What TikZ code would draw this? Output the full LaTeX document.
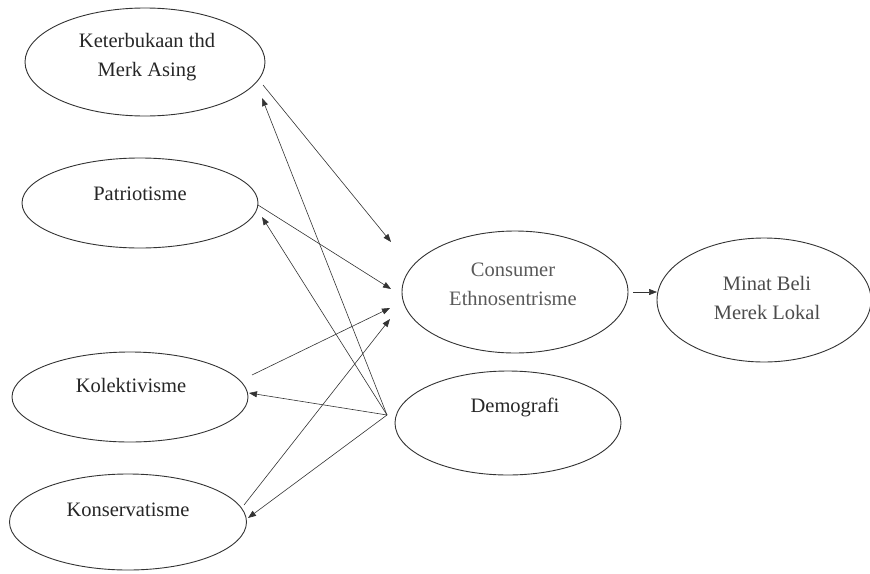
\documentclass[tikz,border=0pt]{standalone}
\usepackage{fontspec}
\setmainfont{Liberation Serif}
\usetikzlibrary{shapes.geometric,arrows.meta}
\begin{document}
\begin{tikzpicture}[x=1pt,y=-1pt,
  ell/.style={draw=black!80, line width=0.9pt, ellipse, inner sep=0pt},
  lbl/.style={font=\fontsize{20.5}{29}\selectfont, align=center, text=black!85, inner sep=0pt},
  arr/.style={draw=black!80, line width=0.6pt, -{Triangle[length=8pt,width=6pt]}}]
\useasboundingbox (0,0) rectangle (870,573);
% ellipses
\node[ell, minimum width=240pt, minimum height=108pt] (k) at (145,62) {};
\node[ell, minimum width=236pt, minimum height=90pt] (p) at (140,203) {};
\node[ell, minimum width=236pt, minimum height=90pt] (kol) at (130,397) {};
\node[ell, minimum width=237pt, minimum height=96pt] (kon) at (128,522) {};
\node[ell, minimum width=226pt, minimum height=122pt] (c) at (515,292) {};
\node[ell, minimum width=214pt, minimum height=124pt] (m) at (764,300) {};
\node[ell, minimum width=226pt, minimum height=104pt] (d) at (508,423) {};
% texts
\node[lbl] (kt) at (147,57) {Keterbukaan thd\\Merk Asing};
\node[lbl] (pt) at (140,194) {Patriotisme};
\node[lbl] (kolt) at (131,385) {Kolektivisme};
\node[lbl] (kont) at (128,510) {Konservatisme};
\node[lbl, text=black!65] (ct) at (513,284) {Consumer\\Ethnosentrisme};
\node[lbl, text=black!70] (mt) at (767,298) {Minat Beli\\Merek Lokal};
\node[lbl] (dt) at (515,407) {Demografi};
% connector end points
\coordinate (k-out) at (263,85);
\coordinate (p-out) at (258,205);
\coordinate (kol-out) at (252,375);
\coordinate (kon-out) at (244,505);
\coordinate (c-in1) at (391,242);
\coordinate (c-in2) at (391,289);
\coordinate (c-in3) at (390,308);
\coordinate (c-in4) at (390,319);
\coordinate (d-src) at (387,415);
\coordinate (k-in) at (262,98);
\coordinate (p-in) at (262,217);
\coordinate (kol-in) at (249,393);
\coordinate (kon-in) at (248,518);
\coordinate (c-out) at (633,292);
\coordinate (m-in) at (657,292);
% connectors
\draw[arr] (k-out) -- (c-in1);
\draw[arr] (p-out) -- (c-in2);
\draw[arr] (kol-out) -- (c-in3);
\draw[arr] (kon-out) -- (c-in4);
\draw[arr] (d-src) -- (k-in);
\draw[arr] (d-src) -- (p-in);
\draw[arr] (d-src) -- (kol-in);
\draw[arr] (d-src) -- (kon-in);
\draw[arr] (c-out) -- (m-in);
\end{tikzpicture}
\end{document}
